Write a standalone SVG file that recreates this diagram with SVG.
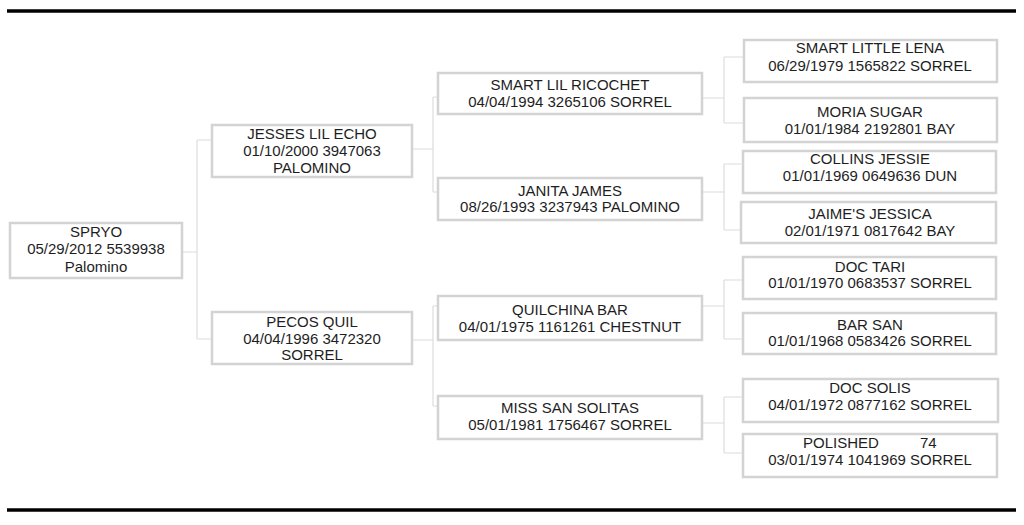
<svg xmlns="http://www.w3.org/2000/svg" width="1024" height="525" viewBox="0 0 1024 525">
<style>
.box{fill:#fff;stroke:#d3d3d3;stroke-width:2.5}
.t{font-family:"Liberation Sans",Arial,sans-serif;font-size:15px;fill:#1e1e1e;text-anchor:middle}
.c{fill:none;stroke:#dcdcdc;stroke-width:1.2}
.rule{stroke:#000;stroke-width:3.5}
</style>
<rect width="1024" height="525" fill="#fff"/>
<line class="rule" x1="7" y1="11" x2="1016" y2="11"/>
<line class="rule" x1="7" y1="510" x2="1016" y2="510"/>
<g id="connectors">
<path class="c" d="M182,252H197M197,140V339M197,140H212M197,339H212"/>
<path class="c" d="M412,149H433M433,97V192M433,97H438M433,192H438"/>
<path class="c" d="M412,340H433M433,306V406M433,306H438M433,406H438"/>
<path class="c" d="M702,98H724M724,57V123M724,57H744M724,123H744"/>
<path class="c" d="M702,192H724M724,164V230M724,164H741M724,230H741"/>
<path class="c" d="M702,306H724M724,280V339M724,280H743M724,339H743"/>
<path class="c" d="M702,423H724M724,397V453M724,397H743M724,453H743"/>
</g>
<g id="spryo"><rect class="box" x="10" y="223" width="172" height="55"/>
<text class="t" x="96" y="237">SPRYO</text><text class="t" x="96" y="254">05/29/2012 5539938</text><text class="t" x="96" y="272">Palomino</text></g>
<g id="jesses-lil-echo"><rect class="box" x="212" y="125" width="200" height="52"/>
<text class="t" x="312" y="139">JESSES LIL ECHO</text><text class="t" x="312" y="156">01/10/2000 3947063</text><text class="t" x="312" y="173">PALOMINO</text></g>
<g id="pecos-quil"><rect class="box" x="212" y="312" width="200" height="52"/>
<text class="t" x="312" y="327">PECOS QUIL</text><text class="t" x="312" y="344">04/04/1996 3472320</text><text class="t" x="312" y="360">SORREL</text></g>
<g id="smart-lil-ricochet"><rect class="box" x="438" y="73" width="264" height="41"/>
<text class="t" x="570" y="90">SMART LIL RICOCHET</text><text class="t" x="570" y="107">04/04/1994 3265106 SORREL</text></g>
<g id="janita-james"><rect class="box" x="438" y="178" width="264" height="42"/>
<text class="t" x="570" y="196">JANITA JAMES</text><text class="t" x="570" y="212">08/26/1993 3237943 PALOMINO</text></g>
<g id="quilchina-bar"><rect class="box" x="438" y="296" width="264" height="44"/>
<text class="t" x="570" y="315">QUILCHINA BAR</text><text class="t" x="570" y="332">04/01/1975 1161261 CHESTNUT</text></g>
<g id="miss-san-solitas"><rect class="box" x="438" y="396" width="264" height="43"/>
<text class="t" x="570" y="413">MISS SAN SOLITAS</text><text class="t" x="570" y="430">05/01/1981 1756467 SORREL</text></g>
<g id="smart-little-lena"><rect class="box" x="744" y="40" width="253" height="42"/>
<text class="t" x="870" y="53">SMART LITTLE LENA</text><text class="t" x="870" y="71">06/29/1979 1565822 SORREL</text></g>
<g id="moria-sugar"><rect class="box" x="744" y="98" width="253" height="44"/>
<text class="t" x="870" y="117">MORIA SUGAR</text><text class="t" x="870" y="134">01/01/1984 2192801 BAY</text></g>
<g id="collins-jessie"><rect class="box" x="743" y="151" width="253" height="42"/>
<text class="t" x="870" y="164">COLLINS JESSIE</text><text class="t" x="870" y="181">01/01/1969 0649636 DUN</text></g>
<g id="jaimes-jessica"><rect class="box" x="741" y="202" width="255" height="41"/>
<text class="t" x="870" y="219">JAIME'S JESSICA</text><text class="t" x="870" y="236">02/01/1971 0817642 BAY</text></g>
<g id="doc-tari"><rect class="box" x="743" y="257" width="253" height="42"/>
<text class="t" x="870" y="272">DOC TARI</text><text class="t" x="870" y="288">01/01/1970 0683537 SORREL</text></g>
<g id="bar-san"><rect class="box" x="743" y="313" width="253" height="41"/>
<text class="t" x="870" y="330">BAR SAN</text><text class="t" x="870" y="346">01/01/1968 0583426 SORREL</text></g>
<g id="doc-solis"><rect class="box" x="743" y="379" width="255" height="43"/>
<text class="t" x="870" y="393">DOC SOLIS</text><text class="t" x="870" y="410">04/01/1972 0877162 SORREL</text></g>
<g id="polished"><rect class="box" x="743" y="434" width="254" height="43"/>
<text class="t" style="text-anchor:start" y="448"><tspan x="803">POLISHED</tspan><tspan x="920">74</tspan></text><text class="t" x="870" y="465">03/01/1974 1041969 SORREL</text></g>
</svg>
